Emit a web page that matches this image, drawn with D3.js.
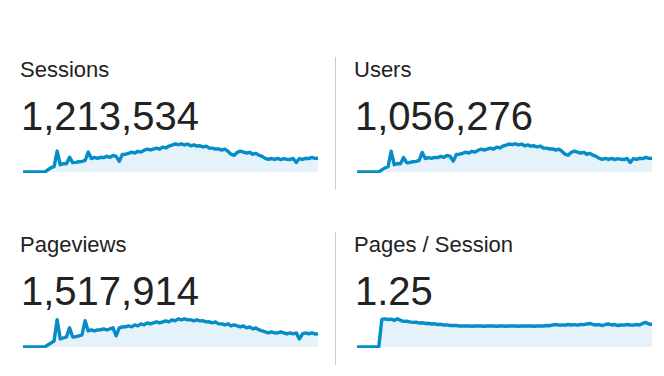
<!DOCTYPE html>
<html>
<head>
<meta charset="utf-8">
<script src="https://cdn.jsdelivr.net/npm/d3@7"></script>
<style>
  body { margin: 0; background: #fff; }
  svg { display: block; font-family: Arial, "Liberation Sans", sans-serif; }
</style>
</head>
<body>
<div id="chart"></div>
<script>
// metric names and totals
const metricNames = ["Sessions", "Users", "Pageviews", "Pages / Session"];
const metricTotals = ["1,213,534", "1,056,276", "1,517,914", "1.25"];

// sparkline series, one value per period (first 8 periods have no data)
const sessions = [0, 0, 0, 0, 0, 0, 0, 0,
  410, 820, 1030, 4020, 1390, 1610, 1580, 2840, 1790, 1850, 1960, 2040, 2210, 3830,
  2580, 2790, 2610, 2820, 2760, 3010, 2830, 3180, 2990, 2050, 3370, 3420, 3590, 3810,
  3640, 3980, 3820, 4170, 4390, 4230, 4410, 4580, 4380, 4790, 4620, 4980, 5170, 5380,
  5240, 5410, 5190, 5360, 5020, 5210, 4980, 5030, 4810, 4970, 4620, 4580, 4410, 4430,
  4210, 4380, 3990, 3420, 3210, 3780, 3990, 3820, 3610, 3790, 3410, 3580, 3220, 2990,
  2610, 2420, 2590, 2410, 2620, 2380, 2570, 2430, 2390, 2610, 1820, 2580, 2410, 2630,
  2570, 2790, 2610, 2640];

const users = [0, 0, 0, 0, 0, 0, 0, 0,
  360, 700, 880, 3480, 1210, 1420, 1370, 2420, 1560, 1600, 1720, 1780, 1930, 3290,
  2260, 2420, 2290, 2460, 2410, 2620, 2470, 2790, 2610, 1830, 2950, 2990, 3140, 3320,
  3170, 3480, 3330, 3650, 3830, 3690, 3860, 4010, 3830, 4180, 4040, 4350, 4520, 4700,
  4580, 4730, 4540, 4690, 4390, 4560, 4350, 4400, 4210, 4350, 4040, 4010, 3860, 3870,
  3680, 3830, 3490, 2990, 2810, 3300, 3490, 3340, 3160, 3310, 2980, 3130, 2820, 2620,
  2290, 2120, 2270, 2110, 2290, 2080, 2250, 2130, 2090, 2280, 1600, 2260, 2110, 2300,
  2250, 2440, 2280, 2310];

const pageviews = [0, 0, 0, 0, 0, 0, 0, 0,
  510, 980, 1490, 6780, 2010, 2240, 2530, 4760, 2490, 2560, 2780, 3010, 6530, 3990,
  4270, 4010, 4240, 4290, 4510, 4230, 4490, 4760, 2780, 4740, 4990, 5020, 5260, 5010,
  5490, 5270, 5760, 5510, 6010, 5740, 6020, 6260, 5990, 6240, 6510, 6270, 6760, 6490,
  7010, 6770, 6990, 6740, 6780, 6510, 6760, 6490, 6520, 6240, 6270, 5990, 6230, 5760,
  5740, 5510, 5770, 5240, 5490, 5260, 4990, 5240, 4760, 4990, 4510, 4740, 4260, 3990,
  3760, 3490, 3740, 3510, 3490, 3760, 3510, 3240, 3490, 3260, 3510, 2010, 3240, 3490,
  3260, 3510, 3240, 3260];

const pagesPerSession = [0, 0, 0, 0, 0, 0, 0, 0,
  1.61, 1.64, 1.60, 1.62, 1.55, 1.64, 1.55, 1.49, 1.50, 1.46, 1.43, 1.44, 1.40, 1.41,
  1.37, 1.38, 1.34, 1.35, 1.31, 1.32, 1.28, 1.29, 1.25, 1.26, 1.25, 1.22, 1.23, 1.22,
  1.23, 1.21, 1.22, 1.23, 1.22, 1.21, 1.22, 1.23, 1.22, 1.21, 1.22, 1.22, 1.21, 1.22,
  1.23, 1.22, 1.21, 1.22, 1.22, 1.23, 1.22, 1.21, 1.22, 1.23, 1.22, 1.25, 1.24, 1.28,
  1.31, 1.27, 1.28, 1.27, 1.31, 1.28, 1.30, 1.27, 1.31, 1.30, 1.34, 1.37, 1.31, 1.28,
  1.30, 1.25, 1.31, 1.34, 1.28, 1.31, 1.25, 1.28, 1.27, 1.31, 1.28, 1.27, 1.31, 1.28,
  1.37, 1.43, 1.34, 1.31];

const series = [sessions, users, pageviews, pagesPerSession];

const width = 664, height = 376;
const svg = d3.select("#chart").append("svg")
  .attr("width", width)
  .attr("height", height);

// panel layout: left column / right column, top row / bottom row
const colX = [20, 354];
const rowY = [0, 175];
const sparkW = 295, sparkH = 31;

svg.append("defs").selectAll("clipPath")
  .data(series)
  .join("clipPath")
  .attr("id", (d, i) => "clip" + i)
  .append("rect")
  .attr("x", (d, i) => colX[i % 2] + 3)
  .attr("y", (d, i) => rowY[Math.floor(i / 2)] + 172 - sparkH - 4)
  .attr("width", sparkW)
  .attr("height", sparkH + 5);

series.forEach((values, i) => {
  const left = colX[i % 2];
  const top = rowY[Math.floor(i / 2)];
  const bottom = top + 172;

  const x = d3.scaleLinear()
    .domain([0, values.length - 1])
    .range([left + 3, left + 3 + sparkW]);
  const y = d3.scaleLinear()
    .domain([0, d3.max(values) * 1.1])
    .range([bottom, bottom - sparkH]);

  const g = svg.append("g");

  g.append("text")
    .attr("x", left)
    .attr("y", top + 77)
    .attr("font-size", 22)
    .attr("fill", "#222")
    .text(metricNames[i]);

  g.append("text")
    .attr("x", left + 1)
    .attr("y", top + 130)
    .attr("font-size", 40)
    .attr("fill", "#222")
    .text(metricTotals[i]);

  const area = d3.area()
    .x((d, j) => x(j))
    .y0(bottom)
    .y1((d) => y(d));

  const line = d3.line()
    .x((d, j) => x(j))
    .y((d) => y(d));

  g.append("path")
    .datum(values)
    .attr("fill", "#e6f2fa")
    .attr("d", area);

  g.append("path")
    .datum(values)
    .attr("clip-path", `url(#clip${i})`)
    .attr("fill", "none")
    .attr("stroke", "#058dc7")
    .attr("stroke-width", 3.4)
    .attr("stroke-linejoin", "round")
    .attr("d", line);
});

// vertical dividers between columns
svg.selectAll("line.divider")
  .data(rowY)
  .join("line")
  .attr("class", "divider")
  .attr("x1", 335.5)
  .attr("x2", 335.5)
  .attr("y1", (d) => d + 57)
  .attr("y2", (d) => d + 190)
  .attr("stroke", "#ccc")
  .attr("stroke-width", 1);
</script>
</body>
</html>
